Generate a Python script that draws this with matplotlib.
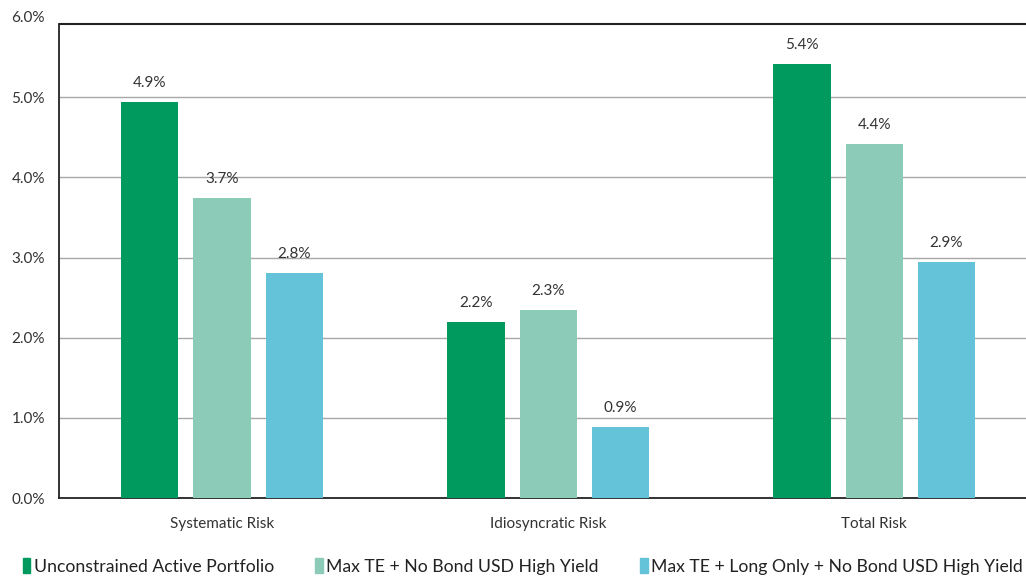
import numpy as np
import matplotlib.pyplot as plt
from matplotlib.patches import Patch

plt.rcParams['font.family'] = ['Lato', 'DejaVu Sans']

categories = ['Systematic Risk', 'Idiosyncratic Risk', 'Total Risk']
series_names = ['Unconstrained Active Portfolio',
                'Max TE + No Bond USD High Yield',
                'Max TE + Long Only + No Bond USD High Yield']
unconstrained = [4.94, 2.19, 5.41]
max_te = [3.74, 2.34, 4.42]
max_te_long = [2.81, 0.89, 2.94]
colors = ['#009A5E', '#8DCBB9', '#64C3D8']
yticks = [0, 1, 2, 3, 4, 5, 6]

fig = plt.figure(figsize=(10.26, 5.76), dpi=100)
ax = fig.add_axes([0.0575, 0.1354, 0.9425, 0.8351])

x = np.arange(len(categories))
w = 0.175
step = 0.221
for i, vals in enumerate([unconstrained, max_te, max_te_long]):
    pos = x + (i - 1) * step
    ax.bar(pos, vals, width=w, color=colors[i], zorder=3)
    for p, v in zip(pos, vals):
        ax.text(p, v + 0.15, f'{v:.1f}%', ha='center', va='bottom',
                fontsize=11, color='#333333')

ax.set_xlim(-0.5, 2.466)
ax.set_ylim(0, 6)
ax.set_yticks(yticks)
ax.set_yticklabels([f'{t:.1f}%' for t in yticks], fontsize=11, color='#333333')
ax.set_xticks(x)
ax.set_xticklabels(categories, fontsize=11, color='#333333')
ax.tick_params(length=0)
ax.tick_params(axis='x', pad=14)
ax.tick_params(axis='y', pad=10)
# gridlines between the baseline and the frame line
for t in yticks[1:-1]:
    ax.axhline(t, color='#A8A8A8', lw=1, zorder=0)
ax.axhline(5.91, color='#222222', lw=1.5, zorder=4)
for s in ['left', 'bottom']:
    ax.spines[s].set_color('#222222')
    ax.spines[s].set_linewidth(1.3)
ax.spines['right'].set_visible(False)
ax.spines['top'].set_visible(False)
ax.spines['left'].set_bounds(0, 5.91)

handles = [Patch(color=c) for c in colors]
fig.legend(handles, series_names, loc='lower left', bbox_to_anchor=(0.022, 0.002),
           ncol=3, frameon=False, fontsize=12.7, handlelength=0.42, handleheight=0.95,
           handletextpad=0.2, columnspacing=2.35, borderpad=0, borderaxespad=0,
           labelcolor='#222222')

fig.savefig('out.png', dpi=100)
